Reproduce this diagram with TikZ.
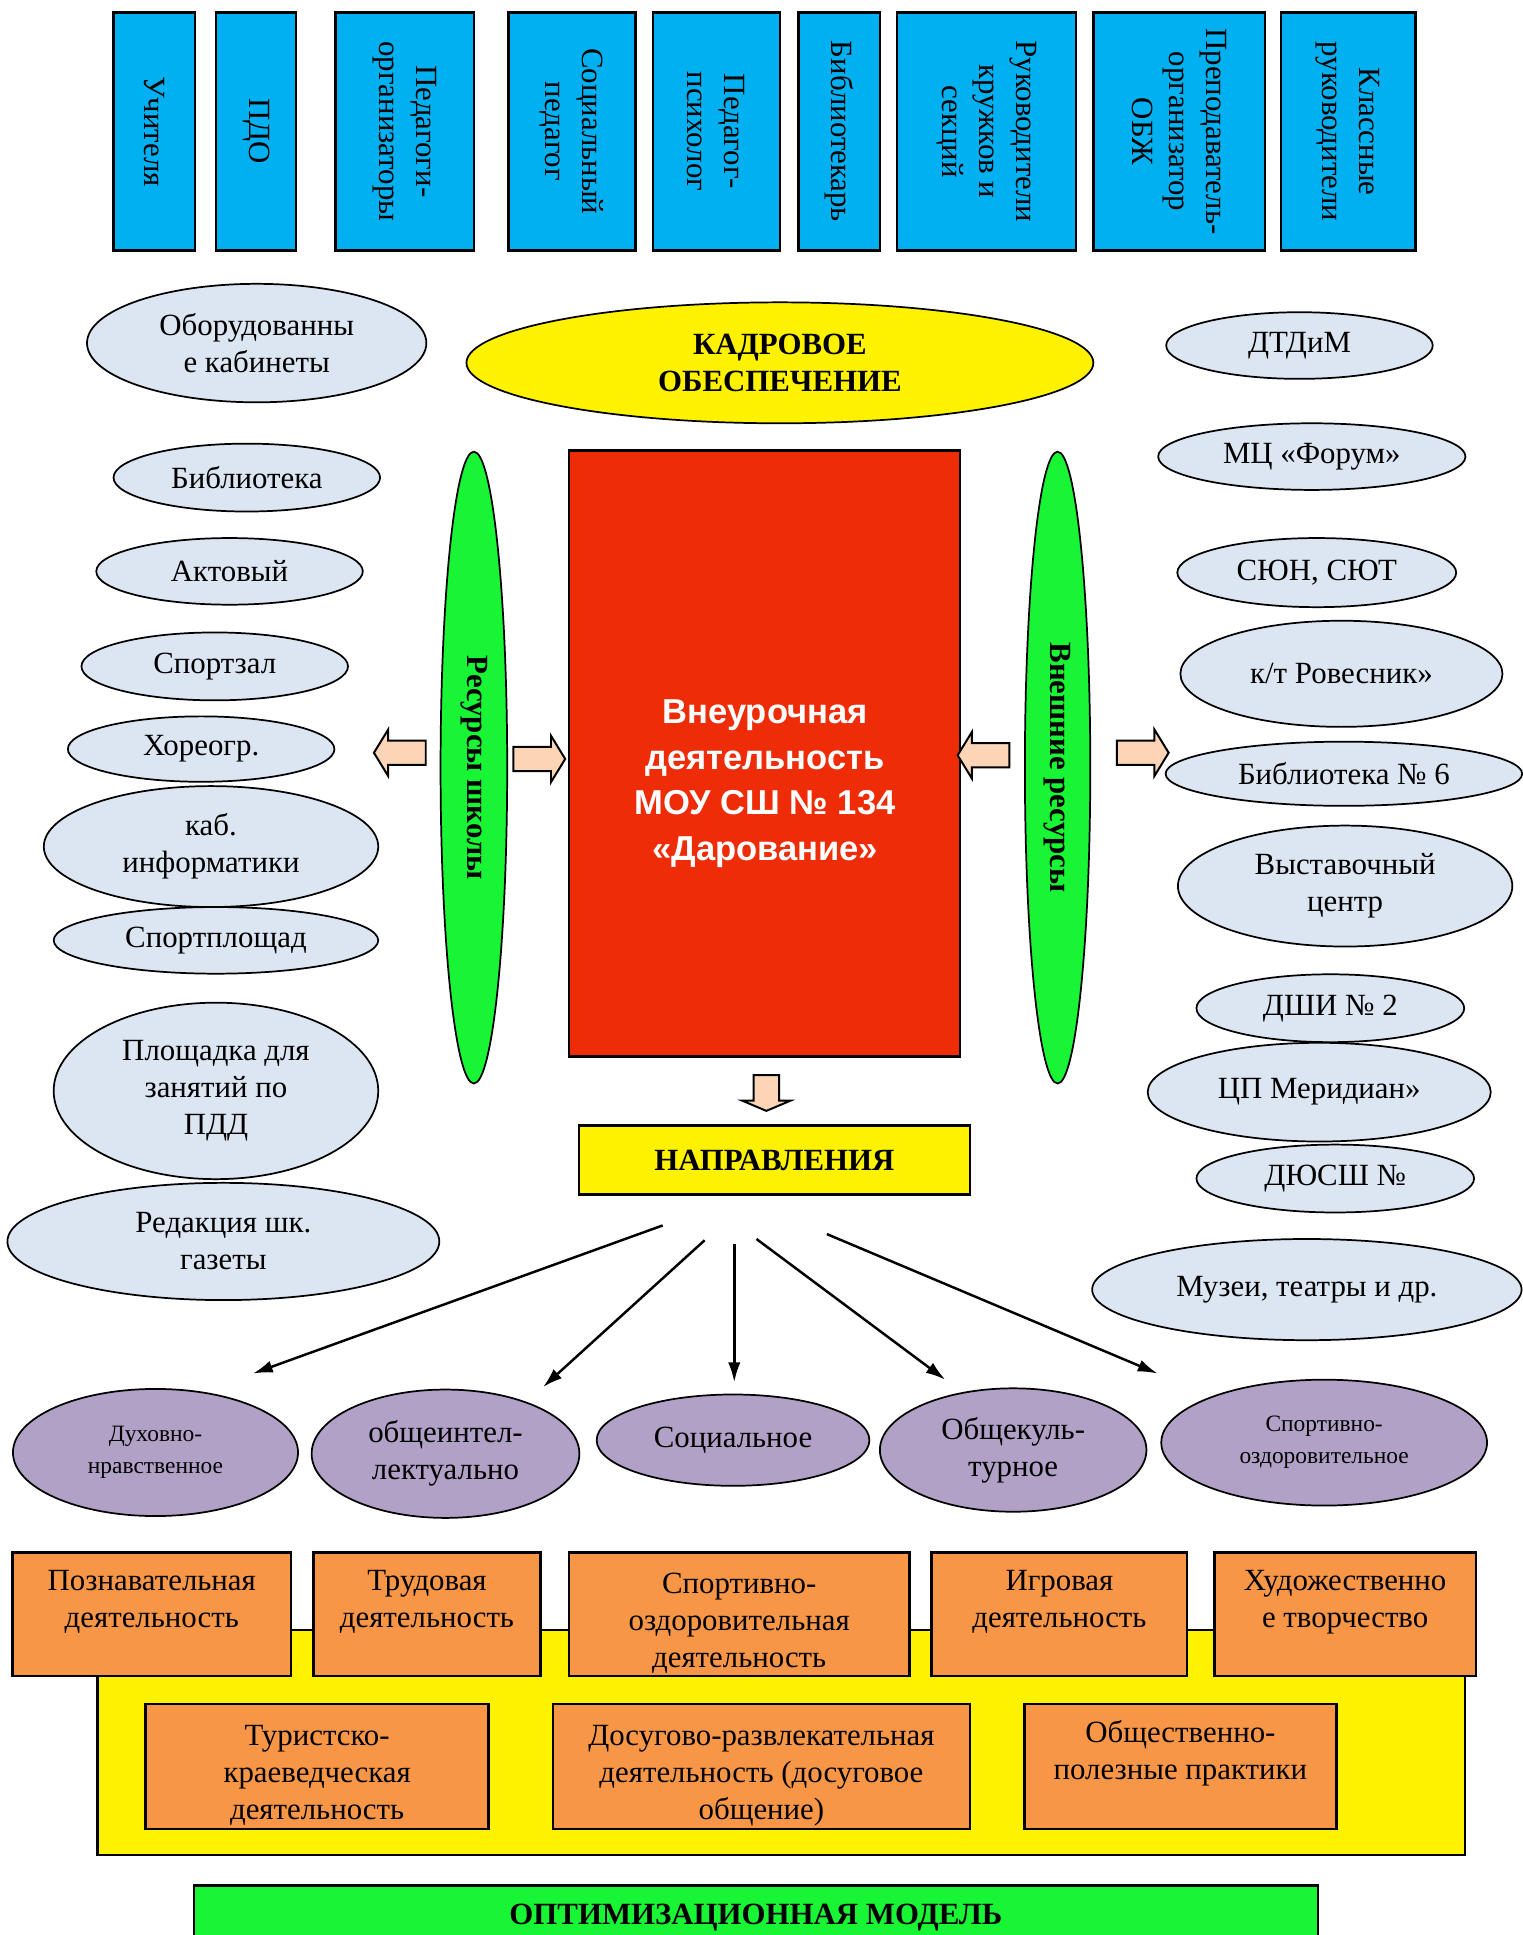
\documentclass[tikz,border=0pt]{standalone}
\usepackage{fontspec}
\setmainfont{Liberation Serif}
\newfontfamily\arialfont{Liberation Sans}
\usetikzlibrary{arrows.meta, shapes.geometric, shapes.arrows}

\definecolor{kadrblue}{RGB}{0,176,240}
\definecolor{resgray}{RGB}{220,230,242}
\definecolor{resgreen}{RGB}{24,245,52}
\definecolor{mainred}{RGB}{238,44,8}
\definecolor{peach}{RGB}{251,213,181}
\definecolor{napurple}{RGB}{178,161,199}
\definecolor{vidorange}{RGB}{247,150,70}

\newcommand\vidtop{\rule{0pt}{15.3pt}}

\tikzset{
    wh/.style 2 args={minimum width=#1*0.5pt, minimum height=#2*0.5pt},
    txt/.style={font=\fontsize{12.5}{15}\selectfont},
    btxt/.style={font=\fontsize{12.5}{15}\selectfont\bfseries},
    kadry/.style={draw, line width=1pt, fill=kadrblue, rotate=-90, align=center, inner sep=0pt, txt},
    res/.style={ellipse, draw, line width=0.7pt, fill=resgray, align=center, inner sep=0pt, txt},
    resbig/.style={ellipse, draw, line width=0.7pt, fill=resgreen, rotate=-90, inner sep=0pt, btxt},
    blockarr/.style={single arrow, draw, line width=0.8pt, fill=peach, inner xsep=0pt, inner ysep=4.5pt,
        minimum height=21pt, single arrow head extend=4.5pt, single arrow tip angle=117},
    napr/.style={ellipse, draw, line width=0.7pt, fill=napurple, align=center, inner sep=0pt, txt},
    vid/.style={draw, line width=1pt, fill=vidorange, align=center, inner sep=0pt, txt},
    dirarr/.style={-{Latex[length=8pt,width=5pt]}, line width=1pt},
}

\begin{document}
\begin{tikzpicture}[x=0.5pt, y=-0.5pt]
    \useasboundingbox (0,0) rectangle (1234,1568);
    \clip (0,0) rectangle (1234,1568);

    % kadry
    \node[kadry, wh={193}{66}]  (uch)  at (125,106.5)   {Учителя};
    \node[kadry, wh={193}{65}]  (pdo)  at (207.5,106.5) {ПДО};
    \node[kadry, wh={193}{112}] (porg) at (328,106.5)   {Педагоги-\\организаторы};
    \node[kadry, wh={193}{103}] (sped) at (463.5,106.5) {Социальный\\педагог};
    \node[kadry, wh={193}{103}] (psih) at (580.5,106.5) {Педагог-\\психолог};
    \node[kadry, wh={193}{66}]  (bibl) at (680,106.5)   {Библиотекарь};
    \node[kadry, wh={193}{145}] (ruk)  at (799.5,106.5) {Руководители\\кружков и\\секций};
    \node[kadry, wh={193}{139}] (obzh) at (955.5,106.5) {Преподаватель-\\организатор\\ОБЖ};
    \node[kadry, wh={193}{109}] (klr)  at (1092.5,106.5) {Классные\\руководители};

    \node[ellipse, draw, line width=0.7pt, fill=yellow, wh={508}{98}, align=center, inner sep=0pt, btxt]
        (kadr) at (632,294) {КАДРОВОЕ\\ОБЕСПЕЧЕНИЕ};

    % resursy shkoly
    \node[res, wh={275}{96}]  (kab)  at (208,278)  {Оборудованны\\е кабинеты};
    \node[res, wh={216}{55}]  (bib)  at (200,387)  {Библиотека};
    \node[res, wh={216}{54}]  (akt)  at (186,463)  {Актовый};
    \node[res, wh={216}{55}]  (szal) at (174,540)  {Спортзал};
    \node[res, wh={216}{53}]  (hor)  at (163,607)  {Хореогр.};
    \node[res, wh={271}{98}]  (inf)  at (171,686)  {каб.\\информатики};
    \node[res, wh={263}{54}]  (splo) at (175,762)  {Спортплощад};
    \node[res, wh={263}{143}] (pdd)  at (175,884)  {Площадка для\\занятий по\\ПДД};
    \node[res, wh={350}{95}]  (gaz)  at (181,1006) {Редакция шк.\\газеты};

    % vneshnie resursy
    \node[res, wh={216}{54}]  (dtdim) at (1053,280)  {ДТДиМ};
    \node[res, wh={249}{54}]  (forum) at (1063,370)  {МЦ «Форум»};
    \node[res, wh={226}{56}]  (syun)  at (1067,464)  {СЮН, СЮТ};
    \node[res, wh={261}{86}]  (rov)   at (1087,546)  {к/т Ровесник»};
    \node[res, wh={289}{52}]  (bib6)  at (1089,627)  {Библиотека № 6};
    \node[res, wh={271}{98}]  (vyst)  at (1090,718)  {Выставочный\\центр};
    \node[res, wh={217}{55}]  (dshi)  at (1078,817)  {ДШИ № 2};
    \node[res, wh={278}{80}]  (mer)   at (1069,885)  {ЦП Меридиан»};
    \node[res, wh={225}{55}]  (dyush) at (1082,955)  {ДЮСШ №};
    \node[res, wh={348}{82}]  (muz)   at (1059,1045) {Музеи, театры и др.};

    \node[resbig, wh={512}{54}] (resL) at (384,622) {Ресурсы школы};
    \node[resbig, wh={512}{53}] (resR) at (857,622) {Внешние ресурсы};

    \node[draw, line width=1pt, fill=mainred, wh={317}{491}] (act) at (619.5,610.5) {};
    \node[align=center, text=white, font=\arialfont\bfseries\fontsize{14}{18.5}\selectfont]
        (acttxt) at (620,635) {Внеурочная\\деятельность\\МОУ СШ № 134\\«Дарование»};

    \node[blockarr, shape border rotate=180] (la) at (327,610) {};
    \node[blockarr] (ra) at (434,615) {};
    \node[blockarr, shape border rotate=180] (lb) at (800,612) {};
    \node[blockarr] (rb) at (923,610) {};
    \node[blockarr, inner xsep=4.75pt, inner ysep=4.75pt, single arrow head extend=4.75pt, minimum height=14.5pt,
        single arrow tip angle=134, shape border rotate=270] (da) at (621,883.5) {};

    \node[draw, line width=1pt, fill=yellow, wh={317}{56}, btxt] (napr) at (627.5,940) {НАПРАВЛЕНИЯ};

    % napravleniya
    \node[napr, wh={231}{103}, font=\fontsize{9.5}{13}\selectfont] (duh) at (126,1177) {Духовно-\\нравственное};
    \node[napr, wh={217}{104}] (obsh)  at (361,1178) {общеинтел-\\лектуально};
    \node[napr, wh={221}{74}]  (soc)   at (594,1167) {Социальное};
    \node[napr, wh={216}{100}] (kult)  at (821,1175) {Общекуль-\\турное};
    \node[napr, wh={264}{102}, font=\fontsize{9.5}{13}\selectfont] (sport) at (1073,1169) {Спортивно-\\оздоровительное};

    \coordinate (s1) at (537,993);  \coordinate (t1) at (205,1113);
    \coordinate (s2) at (571,1005); \coordinate (t2) at (440,1124);
    \coordinate (s3) at (595,1008); \coordinate (t3) at (595,1120);
    \coordinate (s4) at (613,1004); \coordinate (t4) at (766,1118);
    \coordinate (s5) at (670,1000); \coordinate (t5) at (938,1113);
    \path[dirarr]
        (s1) edge (t1)
        (s2) edge (t2)
        (s3) edge (t3)
        (s4) edge (t4)
        (s5) edge (t5);

    % vidy deyatelnosti
    \node[draw, line width=1pt, fill=yellow, wh={1108}{182}] (vidy) at (633,1412) {};
    \node[vid, wh={226}{100}] (pozn)   at (123,1308)   {\vidtop Познавательная\\деятельность\\\strut};
    \node[vid, wh={184}{100}] (trud)   at (346,1308)   {\vidtop Трудовая\\деятельность\\\strut};
    \node[vid, wh={276}{100}] (sportd) at (599,1308)   {\vidtop Спортивно-\\оздоровительная\\деятельность};
    \node[vid, wh={207}{100}] (igr)    at (858.5,1308) {\vidtop Игровая\\деятельность\\\strut};
    \node[vid, wh={212}{100}] (hud)    at (1090,1308)  {\vidtop Художественно\\е творчество\\\strut};
    \node[vid, wh={278}{101}] (tur)    at (257,1431.5) {\vidtop Туристско-\\краеведческая\\деятельность};
    \node[vid, wh={338}{101}] (dos)    at (617,1431.5) {\vidtop Досугово-развлекательная\\деятельность (досуговое\\общение)};
    \node[vid, wh={253}{101}] (obpr)   at (956.5,1431.5) {\vidtop Общественно-\\полезные практики\\\strut};

    \node[draw, line width=1pt, fill=resgreen, wh={911}{52}, btxt] (opt) at (612.5,1554) {ОПТИМИЗАЦИОННАЯ МОДЕЛЬ};
\end{tikzpicture}
\end{document}
